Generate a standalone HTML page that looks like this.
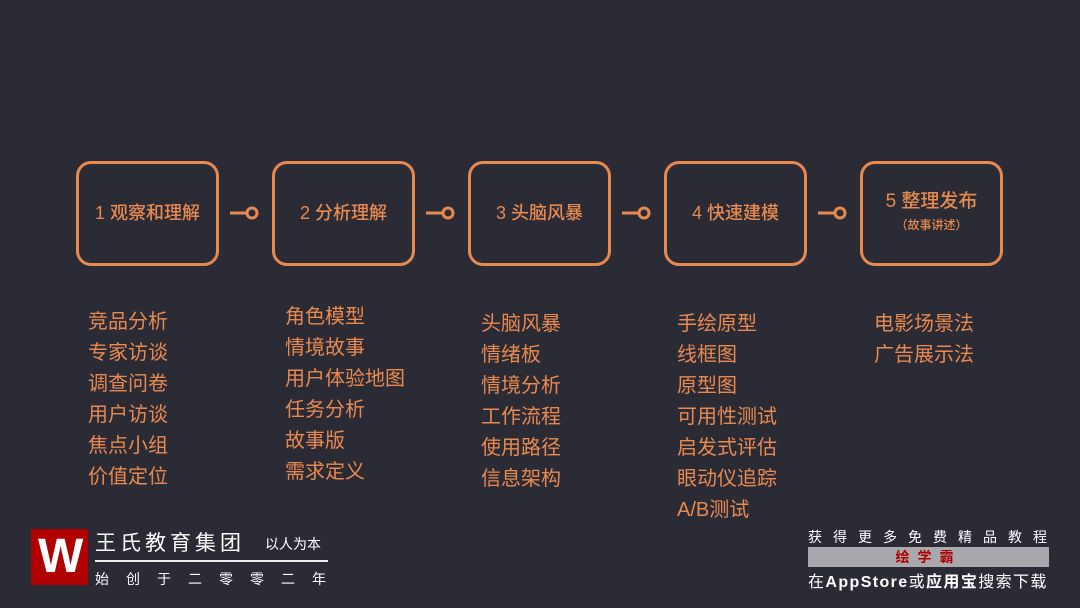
<!DOCTYPE html>
<html><head><meta charset="utf-8"><style>
*{margin:0;padding:0;box-sizing:border-box}
body{width:1080px;height:608px;background:#2b2b36;position:relative;overflow:hidden;font-family:"Liberation Sans","Noto Sans CJK SC",sans-serif;}
.box{position:absolute;top:161px;width:143px;height:105px;border:3px solid #e8894f;border-radius:15px;color:#e8894f;font-size:18px;font-weight:500;display:flex;align-items:center;justify-content:center;flex-direction:column;padding-bottom:3px}
.con{position:absolute;top:206px;width:34px;height:14px}
.list{position:absolute;color:#e8894f;font-size:20px;line-height:31px}
.abs{position:absolute;white-space:nowrap}
</style></head><body>
<div class="box" style="left:76px">1 观察和理解</div>
<div class="box" style="left:272px">2 分析理解</div>
<div class="box" style="left:468px">3 头脑风暴</div>
<div class="box" style="left:664px">4 快速建模</div>
<div class="box" style="left:860px"><div style="font-size:19px;margin-top:-6px">5 整理发布</div><div style="font-size:12px;margin-top:3px">（故事讲述）</div></div>
<svg class="con" style="left:228px" viewBox="0 0 34 14"><line x1="2" y1="7" x2="19" y2="7" stroke="#e8894f" stroke-width="3"/><circle cx="24" cy="7" r="5" fill="none" stroke="#e8894f" stroke-width="3"/></svg>
<svg class="con" style="left:424px" viewBox="0 0 34 14"><line x1="2" y1="7" x2="19" y2="7" stroke="#e8894f" stroke-width="3"/><circle cx="24" cy="7" r="5" fill="none" stroke="#e8894f" stroke-width="3"/></svg>
<svg class="con" style="left:620px" viewBox="0 0 34 14"><line x1="2" y1="7" x2="19" y2="7" stroke="#e8894f" stroke-width="3"/><circle cx="24" cy="7" r="5" fill="none" stroke="#e8894f" stroke-width="3"/></svg>
<svg class="con" style="left:816px" viewBox="0 0 34 14"><line x1="2" y1="7" x2="19" y2="7" stroke="#e8894f" stroke-width="3"/><circle cx="24" cy="7" r="5" fill="none" stroke="#e8894f" stroke-width="3"/></svg>
<div class="list" style="left:88px;top:307px">竞品分析<br>专家访谈<br>调查问卷<br>用户访谈<br>焦点小组<br>价值定位</div>
<div class="list" style="left:285px;top:302px">角色模型<br>情境故事<br>用户体验地图<br>任务分析<br>故事版<br>需求定义</div>
<div class="list" style="left:481px;top:309px">头脑风暴<br>情绪板<br>情境分析<br>工作流程<br>使用路径<br>信息架构</div>
<div class="list" style="left:677px;top:309px">手绘原型<br>线框图<br>原型图<br>可用性测试<br>启发式评估<br>眼动仪追踪<br>A/B测试</div>
<div class="list" style="left:874px;top:309px">电影场景法<br>广告展示法</div>
<div class="abs" style="left:31px;top:529px;width:57px;height:56px;background:#b00000"></div>
<div class="abs" style="left:38px;top:533px;color:#fff;font-size:48px;font-weight:bold;line-height:48px">W</div>
<div class="abs" style="left:95px;top:527px;color:#fff;font-size:21px;letter-spacing:4px">王氏教育集团</div>
<div class="abs" style="left:265px;top:534px;color:#fff;font-size:14px">以人为本</div>
<div class="abs" style="left:95px;top:560px;width:233px;height:2px;background:#eee"></div>
<div class="abs" style="left:95px;top:569px;color:#fff;font-size:14px;letter-spacing:17px">始创于二零零二年</div>
<div class="abs" style="left:808px;top:527px;color:#fff;font-size:14px;letter-spacing:11px">获得更多免费精品教程</div>
<div class="abs" style="left:808px;top:547px;width:241px;height:20px;background:#a9a9ad;color:#b00000;font-size:14px;font-weight:bold;text-align:center;line-height:20px;letter-spacing:8px">绘学霸</div>
<div class="abs" style="left:808px;top:568px;color:#fff;font-size:16px;letter-spacing:1.4px">在<b>AppStore</b>或<b>应用宝</b>搜索下载</div>
</body></html>
